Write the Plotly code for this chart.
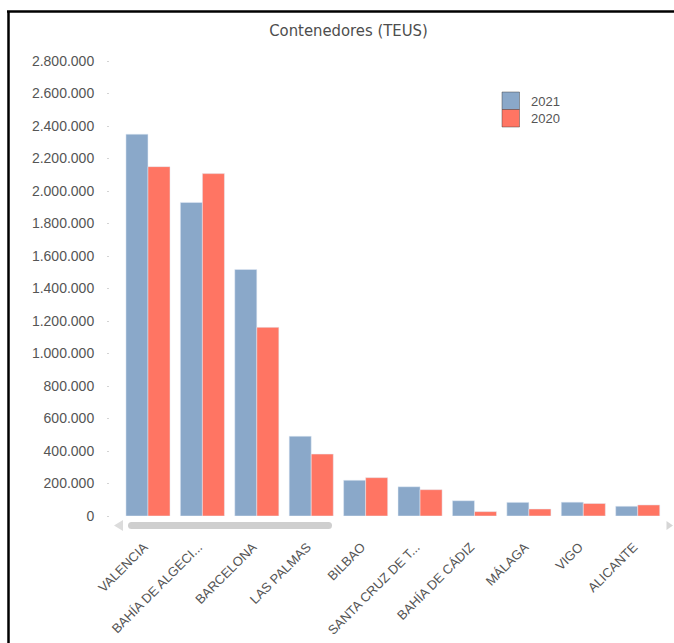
import plotly.graph_objects as go

# Port container traffic (TEUs) by port, 2021 vs 2020
ports = ["VALENCIA", "BAHÍA DE ALGECI...", "BARCELONA", "LAS PALMAS", "BILBAO",
         "SANTA CRUZ DE T...", "BAHÍA DE CÁDIZ", "MÁLAGA", "VIGO", "ALICANTE"]
teus_2021 = [2350000, 1930000, 1517000, 491000, 220000, 180000, 94000, 84000, 85000, 60000]
teus_2020 = [2150000, 2107000, 1161000, 381000, 236000, 162000, 27000, 43000, 77000, 68000]
y_ticks = [0, 200000, 400000, 600000, 800000, 1000000, 1200000, 1400000,
           1600000, 1800000, 2000000, 2200000, 2400000, 2600000, 2800000]

BLUE = "#8AA8C9"
RED = "#FF7563"
TXT = "#555555"
FONT = "Liberation Sans, Arial, sans-serif"

W, H = 674, 643
L, R, T, B = 110, 672, 61, 516  # plot area in page pixels


def px(x):
    return (x - L) / (R - L)


def py(y):
    return (B - y) / (B - T)


fig = go.Figure()
fig.add_trace(go.Bar(name="2021", x=ports, y=teus_2021, marker_color=BLUE,
                     showlegend=False))
fig.add_trace(go.Bar(name="2020", x=ports, y=teus_2020, marker_color=RED,
                     showlegend=False))

shapes = []
# outer frame (left and top edges)
shapes.append(dict(type="line", xref="paper", yref="paper",
                   x0=px(8.5), x1=px(8.5), y0=py(11), y1=py(660),
                   line=dict(color="black", width=2.5)))
shapes.append(dict(type="line", xref="paper", yref="paper",
                   x0=px(7), x1=px(700), y0=py(11.5), y1=py(11.5),
                   line=dict(color="black", width=2.5)))

# horizontal scrollbar thumb (rounded ends)
x0, x1, yc, r = 128, 332, 525.5, 3.5
path = (f"M{px(x0 + r)},{py(yc - r)} L{px(x1 - r)},{py(yc - r)} "
        f"Q{px(x1)},{py(yc - r)} {px(x1)},{py(yc)} "
        f"Q{px(x1)},{py(yc + r)} {px(x1 - r)},{py(yc + r)} "
        f"L{px(x0 + r)},{py(yc + r)} "
        f"Q{px(x0)},{py(yc + r)} {px(x0)},{py(yc)} "
        f"Q{px(x0)},{py(yc - r)} {px(x0 + r)},{py(yc - r)} Z")
shapes.append(dict(type="path", xref="paper", yref="paper", path=path,
                   fillcolor="#cfcfcf", line=dict(width=0)))
# scroll arrows
shapes.append(dict(type="path", xref="paper", yref="paper",
                   path=f"M{px(114)},{py(525.5)} L{px(123)},{py(520)} L{px(123)},{py(531)} Z",
                   fillcolor="#dcdcdc", line=dict(width=0)))
shapes.append(dict(type="path", xref="paper", yref="paper",
                   path=f"M{px(666.5)},{py(521)} L{px(673)},{py(525.5)} L{px(666.5)},{py(530)} Z",
                   fillcolor="#d6d6d6", line=dict(width=0)))

# legend swatches
annotations = []
for i, (name, col) in enumerate([("2021", BLUE), ("2020", RED)]):
    top = 92 + i * 17.5
    shapes.append(dict(type="rect", xref="paper", yref="paper",
                       x0=px(502), x1=px(519.5), y0=py(top), y1=py(top + 17.5),
                       fillcolor=col, line=dict(color="rgba(60,60,60,0.45)", width=1)))
    annotations.append(dict(xref="paper", yref="paper", x=px(529), y=py(top + 9),
                            xanchor="left", yanchor="middle", showarrow=False,
                            text=name, font=dict(family=FONT, size=13, color=TXT)))

fig.update_layout(
    width=W, height=H,
    margin=dict(l=L, r=W - R, t=T, b=H - B, autoexpand=False),
    paper_bgcolor="white", plot_bgcolor="white",
    barmode="group", bargap=0.19, bargroupgap=0,
    separators=",.",
    title=dict(text="Contenedores (TEUS)", x=348.5 / W, xref="container",
               xanchor="center", y=1 - 30 / H, yanchor="middle",
               font=dict(family="DejaVu Sans Condensed, Liberation Sans Narrow, sans-serif",
                         size=16.5, color="#4d4d4d")),
    xaxis=dict(range=[-0.698, 9.63], showgrid=False, showline=False, zeroline=False,
               ticks="", tickangle=-45, ticklabelstandoff=20, ticklabelshift=-4,
               tickfont=dict(family=FONT, size=13, color=TXT)),
    yaxis=dict(range=[0, 2800000], tickvals=y_ticks, tickformat=",d",
               showgrid=False, showline=False, zeroline=False,
               ticks="outside", ticklen=2, tickwidth=1, tickcolor="#d4d4d4",
               ticklabelstandoff=10,
               tickfont=dict(family=FONT, size=14, color=TXT)),
    shapes=shapes, annotations=annotations,
    showlegend=False,
)

fig.write_html("out.html")
